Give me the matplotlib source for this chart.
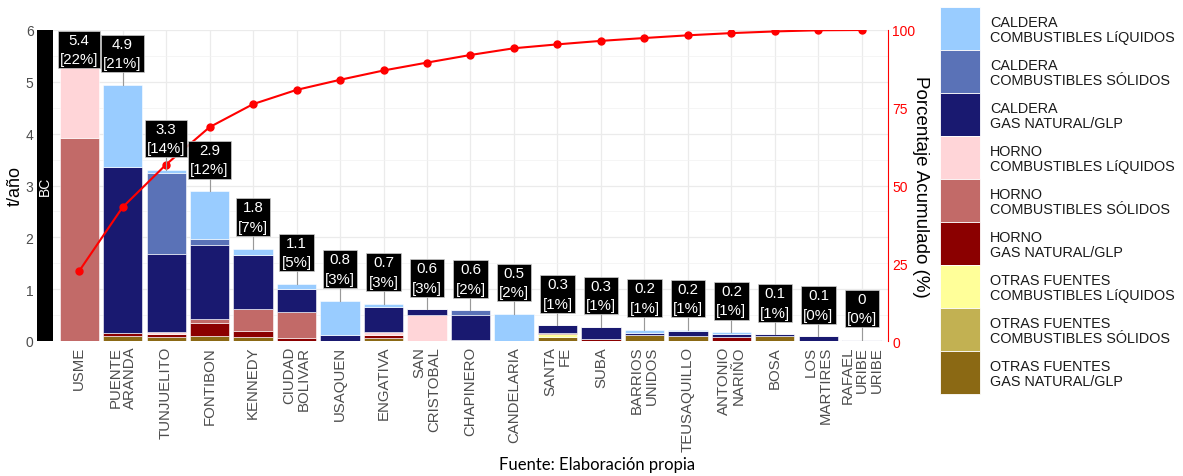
import numpy as np
import matplotlib
matplotlib.use("Agg")
import matplotlib.pyplot as plt
from matplotlib.patches import Rectangle

plt.rcParams['font.family'] = ['Liberation Sans', 'DejaVu Sans']

# ---------------- data ----------------
districts = ["USME", "PUENTE\nARANDA", "TUNJUELITO", "FONTIBON", "KENNEDY",
             "CIUDAD\nBOLIVAR", "USAQUEN", "ENGATIVA", "SAN\nCRISTOBAL", "CHAPINERO",
             "CANDELARIA", "SANTA\nFE", "SUBA", "BARRIOS\nUNIDOS", "TEUSAQUILLO",
             "ANTONIO\nNARIÑO", "BOSA", "LOS\nMARTIRES", "RAFAEL\nURIBE\nURIBE"]

caldera_liq = [0, 1.58, 0.06, 0.92, 0.12, 0.10, 0.66, 0.06, 0, 0, 0.52, 0, 0, 0.06, 0.02, 0.04, 0, 0, 0]
caldera_sol = [0, 0, 1.57, 0.12, 0, 0, 0, 0, 0, 0.09, 0, 0, 0, 0, 0, 0, 0, 0, 0]
caldera_gas = [0, 3.20, 1.50, 1.42, 1.04, 0.45, 0.12, 0.49, 0.11, 0.48, 0, 0.14, 0.24, 0.05, 0.09, 0.06, 0.04, 0.09, 0.02]
horno_liq = [1.48, 0, 0.04, 0, 0, 0, 0, 0.06, 0.50, 0, 0, 0, 0, 0, 0, 0, 0, 0, 0]
horno_sol = [3.92, 0, 0, 0.08, 0.43, 0.50, 0, 0, 0, 0, 0, 0, 0, 0, 0, 0, 0, 0, 0]
horno_gas = [0, 0.07, 0.06, 0.25, 0.12, 0.05, 0, 0.06, 0, 0, 0, 0.03, 0.03, 0, 0, 0.07, 0, 0, 0]
otras_liq = [0, 0, 0, 0, 0, 0, 0, 0, 0, 0, 0, 0.05, 0, 0, 0, 0, 0, 0, 0]
otras_sol = [0] * 19
otras_gas = [0, 0.09, 0.07, 0.10, 0.07, 0, 0, 0.05, 0, 0.02, 0, 0.08, 0, 0.11, 0.10, 0, 0.09, 0, 0]

series_labels = ["CALDERA\nCOMBUSTIBLES LíQUIDOS", "CALDERA\nCOMBUSTIBLES SÓLIDOS", "CALDERA\nGAS NATURAL/GLP",
                 "HORNO\nCOMBUSTIBLES LíQUIDOS", "HORNO\nCOMBUSTIBLES SÓLIDOS", "HORNO\nGAS NATURAL/GLP",
                 "OTRAS FUENTES\nCOMBUSTIBLES LíQUIDOS", "OTRAS FUENTES\nCOMBUSTIBLES SÓLIDOS", "OTRAS FUENTES\nGAS NATURAL/GLP"]
series_values = [caldera_liq, caldera_sol, caldera_gas, horno_liq, horno_sol, horno_gas,
                 otras_liq, otras_sol, otras_gas]
series_colors = ["#99CCFF", "#5A72B7", "#191970", "#FFD5D8", "#C26A68", "#8B0000",
                 "#FFFF99", "#C2B152", "#8B6914"]

facet_label = "BC"
y_ticks = [0, 1, 2, 3, 4, 5, 6]
pct_ticks = [0, 25, 50, 75, 100]

# ---------------- figure ----------------
W, H = 1183, 477
fig = plt.figure(figsize=(W / 100, H / 100), dpi=100)
ax_l, ax_r, ax_t, ax_b = 53, 888, 31, 342
ax = fig.add_axes([ax_l / W, 1 - ax_b / H, (ax_r - ax_l) / W, (ax_b - ax_t) / H])

n = len(districts)
x = np.arange(n)
ymax = 6
ppu = (ax_b - ax_t) / ymax  # pixels per data unit

# stacked bars: last series at bottom
vals = np.array(series_values, dtype=float)
bottom = np.zeros(n)
for k in range(len(series_values) - 1, -1, -1):
    ax.bar(x, vals[k], bottom=bottom, width=0.9, color=series_colors[k],
           edgecolor="white", linewidth=0.4, zorder=2)
    bottom += vals[k]
totals = vals.sum(axis=0)
grand = totals.sum()
cum_pct = np.cumsum(totals) / grand * 100

ax.set_xlim(-0.6, n - 0.4)
ax.set_ylim(0, ymax)
ax.set_yticks(y_ticks)
ax.set_yticks(np.arange(0.5, 6, 1.0), minor=True)
ax.set_xticks(x)
ax.set_xticklabels(districts, rotation=90, ha="center", va="top", multialignment="right",
                   fontsize=10.8, color="#4D4D4D", linespacing=1.05)
ax.tick_params(axis="x", length=0, pad=3.5)
ax.tick_params(axis="y", length=0, pad=14, labelsize=10, labelcolor="#4D4D4D")
ax.tick_params(axis="y", which="minor", length=0)
ax.grid(True, which="major", color="#EBEBEB", linewidth=0.9)
ax.grid(True, which="minor", axis="y", color="#F2F2F2", linewidth=0.5)
ax.set_axisbelow(True)
for s in ax.spines.values():
    s.set_visible(False)

# facet strip on the left
ax.add_patch(Rectangle((-16 / (ax_r - ax_l), 0), 16 / (ax_r - ax_l), 1, transform=ax.transAxes,
                       facecolor="black", edgecolor="none", clip_on=False, zorder=5))
ax.text(-8 / (ax_r - ax_l), 0.5, facet_label, transform=ax.transAxes, rotation=90,
        ha="center", va="center", color="white", fontsize=10, zorder=6)

# secondary axis: cumulative percentage
ax2 = ax.twinx()
ax2.set_ylim(0, 100)
ax2.set_yticks(pct_ticks)
ax2.tick_params(axis="y", length=0, pad=3, labelsize=10, labelcolor="#FF0000")
for name, s in ax2.spines.items():
    s.set_visible(name == "right")
ax2.spines["right"].set_color("#FF0000")
ax2.spines["right"].set_linewidth(0.8)
ax2.plot(x, cum_pct, color="#FF0000", linewidth=1.5, marker="o", markersize=5, zorder=3)

# value labels (boxes with leader segments)
gap_px, box_h = 13, 37
for i in range(n):
    top = totals[i]
    yc = top + (gap_px + box_h / 2) / ppu
    yc = min(yc, ymax - (box_h / 2 + 1) / ppu)
    ybot = yc - (box_h / 2) / ppu
    if ybot > top:
        ax2.plot([i, i], [top, ybot], transform=ax.transData, color="#999999", linewidth=0.8, zorder=4)
    txt = f"{round(top, 1):g}\n[{int(round(100 * top / grand))}%]"
    ax2.text(i, yc, txt, transform=ax.transData, ha="center", va="center", color="white",
             fontsize=10.8, linespacing=1.5, zorder=6,
             bbox=dict(boxstyle="square,pad=0.14", facecolor="black", edgecolor="#CCCCCC", linewidth=0.5))

# axis titles
fig.text(15 / W, 1 - 186.5 / H, "t/año", rotation=90, ha="center", va="center", fontsize=13, color="black")
fig.text(921 / W, 1 - 186.5 / H, "Porcentaje Acumulado (%)", rotation=270, ha="center", va="center",
         fontsize=13.5, color="black")

# legend (manual)
lax = fig.add_axes([0, 0, 1, 1], facecolor="none")
lax.set_xlim(0, W)
lax.set_ylim(H, 0)
lax.axis("off")
key_x, key_w, key_h, key_y0 = 940, 40, 43, 8
for k, (lab, col) in enumerate(zip(series_labels, series_colors)):
    y0 = key_y0 + k * key_h
    lax.add_patch(Rectangle((key_x, y0), key_w, key_h, facecolor=col, edgecolor="white", linewidth=0.6))
    lax.text(990, y0 + key_h / 2 + 1, lab, ha="left", va="center", fontsize=10.4, color="#1A1A1A",
             linespacing=1.15)

# caption
fig.text(597 / W, 1 - 465 / H, "Fuente: Elaboración propia", ha="center", va="center",
         fontsize=12, color="black", family=["Lato", "DejaVu Sans"])

fig.savefig("out.png", dpi=100)
